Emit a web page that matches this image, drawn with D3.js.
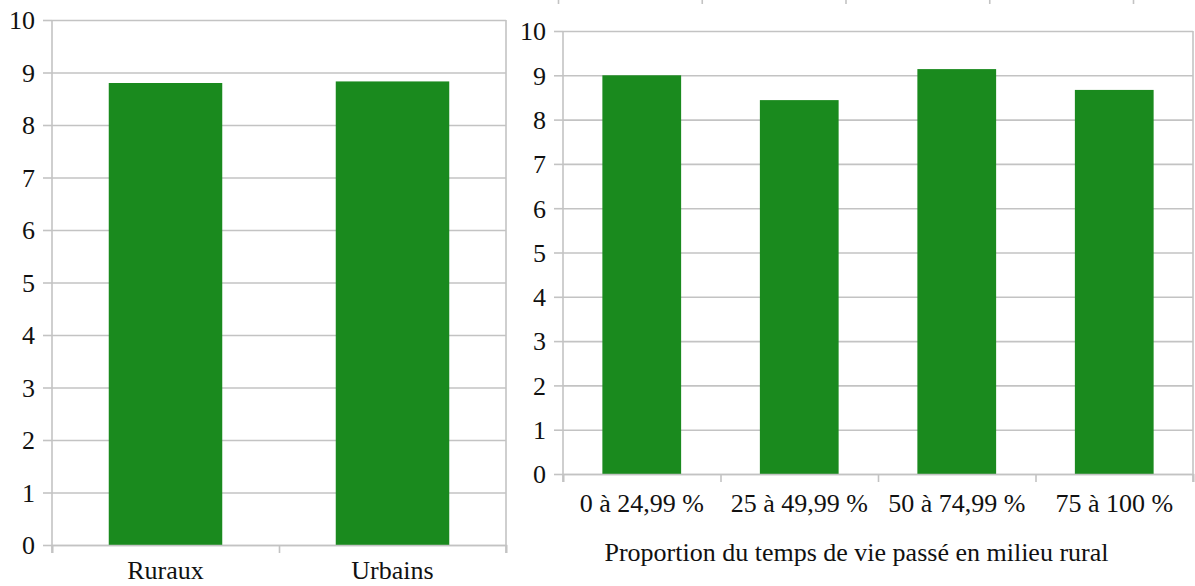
<!DOCTYPE html>
<html>
<head>
<meta charset="utf-8">
<script src="https://cdn.jsdelivr.net/npm/d3@7"></script>
<style>
  body { margin: 0; background: #fff; }
  text { font-family: "Liberation Serif", "Times New Roman", serif; fill: #111; }
</style>
</head>
<body>
<div id="svgdiv"></div>
<script>
// data
var leftCategories = ["Ruraux", "Urbains"];
var leftValues = [8.8, 8.83];

var rightCategories = ["0 à 24,99 %", "25 à 49,99 %", "50 à 74,99 %", "75 à 100 %"];
var rightValues = [9.0, 8.44, 9.14, 8.67];

var yTickValues = [0, 1, 2, 3, 4, 5, 6, 7, 8, 9, 10];
var rightTitle = "Proportion du temps de vie passé en milieu rural";

// the cut-off axis of a chart above, 4 slots
var topSlots = [0, 1, 2, 3, 4];

var svgWidth = 1195;
var svgHeight = 586;
var gridColor = "#c3c3c3";
var barColor = "#1a8a1e";
var fontSize = 26;

var svg = d3.select("#svgdiv")
    .append("svg")
    .attr("width", svgWidth)
    .attr("height", svgHeight);

svg.append("rect")
    .attr("width", svgWidth)
    .attr("height", svgHeight)
    .attr("fill", "#fff");

// draws one bar chart into its box
function drawChart(box, categories, values, title, labelOffset) {
    var width = box.right - box.left;
    var height = box.bottom - box.top;

    var g = svg.append("g")
        .attr("transform", `translate(${box.left}, ${box.top})`);

    var x = d3.scaleBand()
        .domain(categories)
        .range([0, width])
        .paddingInner(0.5)
        .paddingOuter(0.25);

    // category boundaries for tick marks
    var xEdge = d3.scaleLinear()
        .domain([0, categories.length])
        .range([0, width]);

    var y = d3.scaleLinear()
        .domain([0, 10])
        .range([height, 0]);

    // horizontal gridlines
    var grid = g.append("g")
        .call(d3.axisLeft(y).tickValues(yTickValues).tickSize(-width).tickFormat(""));
    grid.select(".domain").remove();
    grid.selectAll("line").attr("stroke", gridColor).attr("stroke-width", 1.6);

    // right border
    g.append("line")
        .attr("x1", width).attr("x2", width)
        .attr("y1", 0).attr("y2", height + 8)
        .attr("stroke", gridColor)
        .attr("stroke-width", 1.6);

    // bars
    g.selectAll("rect.bar")
        .data(values)
        .enter()
        .append("rect")
            .attr("class", "bar")
            .attr("x", (d, i) => x(categories[i]))
            .attr("y", d => y(d))
            .attr("width", x.bandwidth())
            .attr("height", d => height - y(d))
            .attr("fill", barColor);

    // y axis
    var yAxis = g.append("g")
        .call(d3.axisLeft(y).tickValues(yTickValues).tickSize(9).tickPadding(8));
    yAxis.selectAll("line").attr("stroke", gridColor).attr("stroke-width", 1.6);
    yAxis.select(".domain").attr("stroke", gridColor).attr("stroke-width", 1.6)
        .attr("d", `M0,0V${height + 8}`);
    yAxis.selectAll("text")
        .attr("font-size", fontSize)
        .attr("dy", "0.34em")
        .style("font-family", "'Liberation Serif', serif")
        .attr("fill", "#111");

    // x axis tick marks at category edges
    var xAxis = g.append("g")
        .attr("transform", `translate(0, ${height})`)
        .call(d3.axisBottom(xEdge).tickValues(d3.range(categories.length + 1)).tickSize(8).tickFormat(""));
    xAxis.select(".domain").attr("stroke", gridColor).attr("stroke-width", 1.6);
    xAxis.selectAll("line").attr("stroke", gridColor).attr("stroke-width", 1.6);

    // category labels
    g.selectAll("text.cat")
        .data(categories)
        .enter()
        .append("text")
            .attr("class", "cat")
            .attr("x", d => x(d) + x.bandwidth() / 2)
            .attr("y", height + labelOffset)
            .attr("text-anchor", "middle")
            .attr("font-size", fontSize)
            .text(d => d);

    if (title) {
        g.append("text")
            .attr("x", (box.labelLeft - box.left + width) / 2)
            .attr("y", height + 87)
            .attr("text-anchor", "middle")
            .attr("font-size", fontSize)
            .text(title);
    }
}

drawChart({ left: 52, right: 506, top: 20, bottom: 545, labelLeft: 10 }, leftCategories, leftValues, null, 34);
drawChart({ left: 563, right: 1193, top: 31, bottom: 474, labelLeft: 520 }, rightCategories, rightValues, rightTitle, 38);

// ticks from the chart above, cut off by the picture edge
var topScale = d3.scaleLinear().domain([0, 4]).range([558, 1133]);
var topAxis = svg.append("g")
    .call(d3.axisBottom(topScale).tickValues(topSlots).tickSize(4).tickFormat(""));
topAxis.select(".domain").remove();
topAxis.selectAll("line").attr("stroke", gridColor).attr("stroke-width", 1.6);
</script>
</body>
</html>
